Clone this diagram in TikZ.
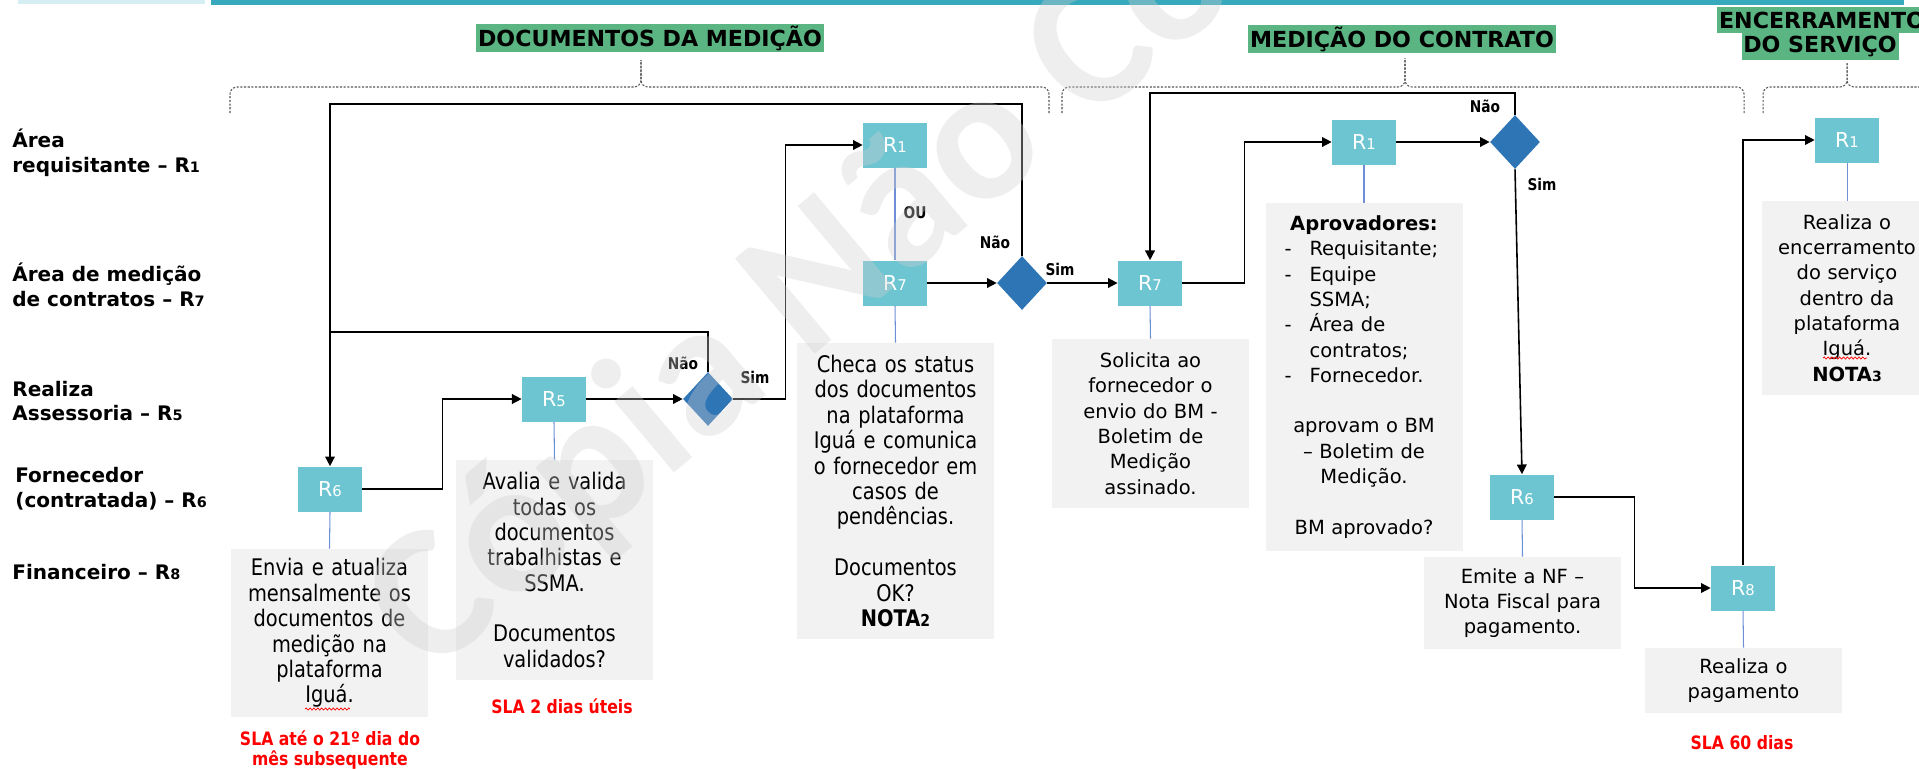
\documentclass[tikz,border=0pt]{standalone}
\usepackage{fontspec}
\setmainfont{DejaVu Sans}
\newfontfamily\tahoma[FakeStretch=0.85]{DejaVu Sans}
\newfontfamily\wmfont{Carlito}
\usetikzlibrary{shapes.geometric,arrows.meta,decorations.pathmorphing}

\definecolor{rteal}{HTML}{6DC5D1}
\definecolor{dblue}{HTML}{2E75B6}
\definecolor{boxgray}{HTML}{F2F2F2}
\definecolor{hdrgreen}{HTML}{5AB582}
\definecolor{linkblue}{HTML}{6E8FD6}
\definecolor{barteal}{HTML}{36A9BC}
\definecolor{barlight}{HTML}{D5EEF4}
\definecolor{wmgray}{HTML}{CFCFCF}
\definecolor{bracegray}{HTML}{555555}

\newcommand\sm[1]{\scalebox{0.72}{#1}}
\newcommand\Rn[1]{R\sm{#1}}
\newcommand\aitem[2]{\makebox[3.9cm][l]{\hspace{0.36cm}\makebox[0.5cm][l]{#1}#2}}

\tikzset{
  rbox/.style={fill=rteal, text=white, minimum width=1.28cm, minimum height=0.9cm, inner sep=0pt, font=\fontsize{11.7pt}{14pt}\selectfont},
  dec/.style={diamond, fill=dblue, minimum width=1.0cm, minimum height=1.08cm, inner sep=0pt},
  gbox/.style={fill=boxgray, minimum width=3.94cm, text width=3.84cm, align=center, inner xsep=0.05cm, inner ysep=0pt},
  tah/.style={font=\tahoma\fontsize{13pt}{14.45pt}\selectfont},
  ver/.style={font=\fontsize{11.1pt}{14.4pt}\selectfont},
  lane/.style={anchor=west, align=left, inner sep=0pt, font=\bfseries\fontsize{11.4pt}{14.2pt}\selectfont},
  hdr/.style={fill=hdrgreen, inner xsep=1pt, inner ysep=0pt, minimum height=0.56cm, font=\bfseries\fontsize{12.6pt}{14pt}\selectfont},
  flow/.style={-{Triangle[length=5.5pt,width=5.5pt]}, line width=0.9pt},
  link/.style={draw=linkblue, line width=0.6pt},
  lbl/.style={font=\tahoma\bfseries\fontsize{9.2pt}{11pt}\selectfont},
  sla/.style={text=red, align=center, font=\tahoma\bfseries\fontsize{10.5pt}{11.4pt}\selectfont},
  brace/.style={draw=bracegray, line width=0.6pt, dash pattern=on 1.2pt off 0.9pt, rounded corners=4pt},
  squiggle/.style={draw=red, line width=0.4pt, decorate, decoration={snake, amplitude=0.6pt, segment length=2.2pt}}
}

\begin{document}
\begin{tikzpicture}[x=0.02cm, y=-0.02cm]
\useasboundingbox (0,0) rectangle (1919,768);
\clip (0,0) rectangle (1919,768);

% top bar
\fill[barlight] (18,0) rectangle (205,4);
\fill[barteal] (211,0) rectangle (1904,5);

% phases
\node[hdr] (hdoc) at (650,38) {DOCUMENTOS DA MEDIÇÃO};
\node[hdr] (hmed) at (1402,39) {MEDIÇÃO DO CONTRATO};
\node[hdr, minimum height=0.52cm] (henc1) at (1822,20) {ENCERRAMENTO};
\node[hdr, minimum height=0.54cm] (henc2) at (1820,46.5) {DO SERVIÇO};
\draw[brace] (230,113) -- (230,87) -- (641,87) -- (641,60);
\draw[brace] (1049,113) -- (1049,87) -- (641,87) -- (641,60);
\draw[brace] (1062,113) -- (1062,87) -- (1405,87) -- (1405,58);
\draw[brace] (1744,113) -- (1744,87) -- (1405,87) -- (1405,58);
\draw[brace] (1763,113) -- (1763,87) -- (1847,87) -- (1847,63);
\draw[brace] (1960,113) -- (1960,87) -- (1847,87) -- (1847,63);

% lanes
\node[lane] (lreq) at (12,153) {Área\\requisitante – \Rn{1}};
\node[lane] (lmed) at (12,285) {Área de medição\\de contratos – \Rn{7}};
\node[lane] (lass) at (12,401) {Realiza\\Assessoria – \Rn{5}};
\node[lane] (lfor) at (15,489) {Fornecedor\\(contratada) – \Rn{6}};
\node[lane] (lfin) at (12,572) {Financeiro – \Rn{8}};

% steps
\node[rbox] (r6a) at (330,489) {\Rn{6}};
\node[rbox] (r5) at (554,399) {\Rn{5}};
\node[dec] (d1) at (708,399) {};
\node[rbox] (r1a) at (895,145) {\Rn{1}};
\node[rbox] (r7a) at (895,283) {\Rn{7}};
\node[dec] (d2) at (1022,283) {};
\node[rbox] (r7b) at (1150,283) {\Rn{7}};
\node[rbox] (r1b) at (1364,142) {\Rn{1}};
\node[dec] (d3) at (1515,142) {};
\node[rbox] (r6b) at (1522,497) {\Rn{6}};
\node[rbox] (r8) at (1743,588) {\Rn{8}};
\node[rbox] (r1c) at (1847,140) {\Rn{1}};

% notes
\node[gbox, tah, minimum height=3.36cm] (ta) at (329.5,633) {Envia e atualiza\\mensalmente os\\documentos de\\medição na\\plataforma\\Iguá.};
\node[gbox, tah, minimum height=4.4cm] (tb) at (554.5,570) {Avalia e valida\\todas os\\documentos\\trabalhistas e\\SSMA.\\~\\Documentos\\validados?};
\node[gbox, tah, minimum height=5.92cm] (tc) at (895.5,491) {Checa os status\\dos documentos\\na plataforma\\Iguá e comunica\\o fornecedor em\\casos de\\pendências.\\~\\Documentos\\OK?\\\textbf{NOTA\sm{2}}};
\node[gbox, ver, minimum height=3.38cm] (td) at (1150.5,423.5) {Solicita ao\\fornecedor o\\envio do BM -\\Boletim de\\Medição\\assinado.};
\node[gbox, ver, text width=3.94cm, inner xsep=0pt, minimum height=6.96cm] (te) at (1364,377) {\textbf{Aprovadores:}\\\aitem{-}{Requisitante;}\\\aitem{-}{Equipe}\\\aitem{}{SSMA;}\\\aitem{-}{Área de}\\\aitem{}{contratos;}\\\aitem{-}{Fornecedor.}\\~\\aprovam o BM\\– Boletim de\\Medição.\\~\\BM aprovado?};
\node[gbox, ver, minimum height=1.84cm] (tf) at (1522.5,603) {Emite a NF –\\Nota Fiscal para\\pagamento.};
\node[gbox, ver, minimum height=1.3cm] (tg) at (1743.5,680.5) {Realiza o\\pagamento};
\node[gbox, ver, minimum width=3.4cm, text width=3.3cm, minimum height=3.88cm] (th) at (1847,298) {Realiza o\\encerramento\\do serviço\\dentro da\\plataforma\\Iguá.\\\textbf{NOTA\sm{3}}};
% spell-check marks under Iguá
\draw[squiggle] (305,709) -- (350,709);
\draw[squiggle] (1823,358) -- (1867,358);

\foreach \a/\b in {r6a/ta, r5/tb, r1a/r7a, r7a/tc, r7b/td, r1b/te, r6b/tf, r8/tg, r1c/th}
  \draw[link] (\a.south) -- (\b.north);

% flow
\coordinate (topA) at (0,104);
\coordinate (topB) at (0,332);
\coordinate (topC) at (0,93);
\draw[flow] (d2.north) |- (r6a.north |- topA) -- (r6a.north);
\draw[line width=0.9pt] (d1.north) |- (r6a.north |- topB);
\draw[flow] (r6a.east) -- ++(80,0) |- (r5.west);
\draw[flow] (r5.east) -- (d1.west);
\draw[flow] (d1.east) -- ++(52,0) |- (r1a.west);
\draw[flow] (r7a.east) -- (d2.west);
\draw[flow] (d2.east) -- (r7b.west);
\draw[flow] (r7b.east) -- ++(62,0) |- (r1b.west);
\draw[flow] (r1b.east) -- (d3.west);
\draw[flow] (d3.north) |- (r7b.north |- topC) -- (r7b.north);
\draw[flow] (d3.south) -- (r6b.north);
\draw[flow] (r6b.east) -- ++(80,0) |- (r8.west);
\draw[flow] (r8.north) |- (r1c.west);

\node[lbl] (no1) at (683,363) {Não};
\node[lbl] (si1) at (755,377) {Sim};
\node[lbl] (ou) at (915,213) {OU};
\node[lbl] (no2) at (995,242) {Não};
\node[lbl] (si2) at (1060,269) {Sim};
\node[lbl] (no3) at (1485,106) {Não};
\node[lbl] (si3) at (1542,184) {Sim};

% SLA
\node[sla] (sla1) at (330,750) {SLA até o 21º dia do\\mês subsequente};
\node[sla] (sla2) at (562,706) {SLA 2 dias úteis};
\node[sla] (sla3) at (1742,743) {SLA 60 dias};

% watermark
\node[rotate=40, text=wmgray, text opacity=0.35, font=\wmfont\bfseries\fontsize{109pt}{109pt}\selectfont] (wm) at (1062,79) {Cópia Não Controlada};
\end{tikzpicture}
\end{document}
